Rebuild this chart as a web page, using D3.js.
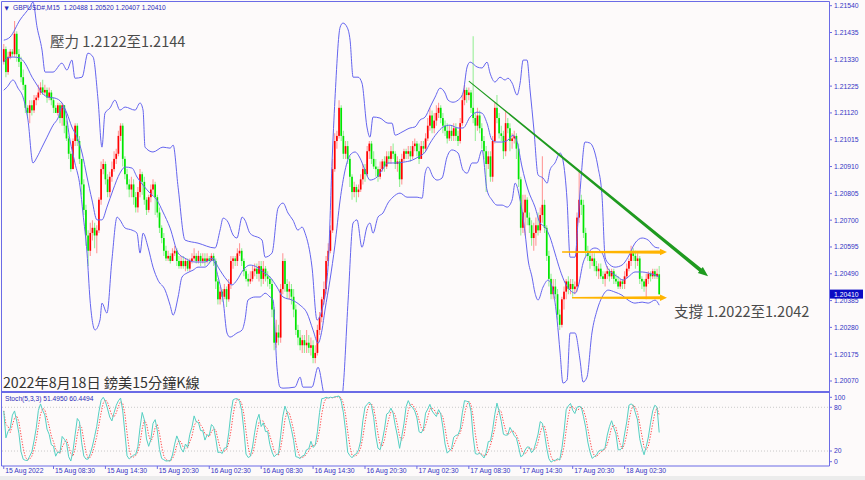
<!DOCTYPE html>
<html><head><meta charset="utf-8">
<script src="https://cdn.jsdelivr.net/npm/d3@7"></script>
<style>body{margin:0;background:#fdfafa;overflow:hidden}svg{display:block}</style>
</head><body>
<svg id="c" width="865" height="480"></svg>
<script>
// ---------- DATA ----------
const symbol = "GBPUSD#,M15";
const open = [1.2132,1.2137,1.2128,1.2134,1.2136,1.2135,1.2143,1.2135,1.2132,1.2126,
1.2123,1.2114,1.2112,1.2115,1.2113,1.2117,1.2118,1.2120,1.2122,1.2120,
1.2121,1.2118,1.2120,1.2117,1.2114,1.2112,1.2115,1.2110,1.2115,1.2107,
1.2102,1.2096,1.2090,1.2101,1.2107,1.2101,1.2094,1.2084,1.2074,1.2064,
1.2058,1.2065,1.2067,1.2064,1.2066,1.2078,1.2090,1.2092,1.2086,1.2081,
1.2087,1.2090,1.2094,1.2096,1.2103,1.2107,1.2094,1.2088,1.2084,1.2082,
1.2084,1.2079,1.2075,1.2081,1.2088,1.2085,1.2078,1.2074,1.2079,1.2082,
1.2084,1.2079,1.2073,1.2067,1.2063,1.2058,1.2055,1.2056,1.2054,1.2057,
1.2058,1.2054,1.2052,1.2054,1.2052,1.2054,1.2051,1.2054,1.2055,1.2056,
1.2054,1.2056,1.2054,1.2055,1.2054,1.2055,1.2054,1.2056,1.2054,1.2046,
1.2039,1.2042,1.2040,1.2043,1.2039,1.2045,1.2054,1.2055,1.2054,1.2057,
1.2058,1.2054,1.2050,1.2047,1.2046,1.2047,1.2050,1.2051,1.2049,1.2052,
1.2047,1.2051,1.2048,1.2047,1.2045,1.2035,1.2022,1.2026,1.2024,1.2043,
1.2054,1.2045,1.2042,1.2043,1.2040,1.2035,1.2027,1.2024,1.2021,1.2023,
1.2021,1.2022,1.2020,1.2021,1.2016,1.2018,1.2027,1.2032,1.2039,1.2043,
1.2054,1.2058,1.2066,1.2090,1.2101,1.2103,1.2114,1.2103,1.2096,1.2099,
1.2094,1.2087,1.2081,1.2083,1.2081,1.2082,1.2086,1.2090,1.2088,1.2097,
1.2100,1.2094,1.2091,1.2090,1.2087,1.2090,1.2093,1.2091,1.2095,1.2094,
1.2097,1.2096,1.2092,1.2093,1.2086,1.2094,1.2097,1.2096,1.2097,1.2095,
1.2099,1.2100,1.2097,1.2094,1.2099,1.2098,1.2102,1.2107,1.2111,1.2106,
1.2109,1.2112,1.2114,1.2110,1.2107,1.2105,1.2102,1.2105,1.2103,1.2106,
1.2103,1.2101,1.2108,1.2117,1.2121,1.2119,1.2120,1.2114,1.2110,1.2107,
1.2111,1.2106,1.2101,1.2097,1.2092,1.2095,1.2087,1.2101,1.2114,1.2110,
1.2104,1.2103,1.2097,1.2108,1.2106,1.2101,1.2102,1.2103,1.2098,1.2086,
1.2067,1.2073,1.2078,1.2071,1.2068,1.2063,1.2065,1.2068,1.2066,1.2072,
1.2076,1.2067,1.2056,1.2047,1.2041,1.2044,1.2041,1.2033,1.2029,1.2039,
1.2042,1.2046,1.2043,1.2045,1.2043,1.2044,1.2071,1.2078,1.2076,1.2065,
1.2058,1.2056,1.2054,1.2055,1.2052,1.2050,1.2051,1.2048,1.2047,1.2049,
1.2050,1.2048,1.2050,1.2047,1.2046,1.2044,1.2046,1.2045,1.2048,1.2051,
1.2054,1.2057,1.2056,1.2054,1.2055,1.2047,1.2046,1.2044,1.2047,1.2049,
1.2048,1.2050,1.2048,1.20488];
const high = [1.2139,1.2138,1.2136,1.2137,1.2137,1.2148,1.2144,1.2137,1.2134,1.2129,
1.2123,1.2115,1.2117,1.2117,1.2119,1.2119,1.2123,1.2124,1.2125,1.2123,
1.2122,1.2122,1.2121,1.2118,1.2115,1.2116,1.2116,1.2116,1.2115,1.2109,
1.2103,1.2097,1.2102,1.2108,1.2108,1.2103,1.2094,1.2086,1.2076,1.2066,
1.2069,1.2070,1.2069,1.2068,1.2079,1.2093,1.2094,1.2093,1.2088,1.2089,
1.2093,1.2097,1.2098,1.2105,1.2108,1.2108,1.2095,1.2090,1.2086,1.2087,
1.2086,1.2081,1.2083,1.2090,1.2089,1.2087,1.2079,1.2080,1.2084,1.2086,
1.2085,1.2080,1.2075,1.2068,1.2065,1.2060,1.2058,1.2057,1.2059,1.2060,
1.2059,1.2056,1.2056,1.2056,1.2055,1.2055,1.2055,1.2057,1.2059,1.2057,
1.2058,1.2057,1.2057,1.2057,1.2057,1.2056,1.2057,1.2057,1.2055,1.2047,
1.2044,1.2043,1.2045,1.2044,1.2047,1.2056,1.2056,1.2056,1.2059,1.2061,
1.2059,1.2055,1.2051,1.2049,1.2050,1.2052,1.2053,1.2053,1.2054,1.2054,
1.2054,1.2052,1.2050,1.2048,1.2047,1.2036,1.2031,1.2029,1.2045,1.2057,
1.2055,1.2047,1.2046,1.2045,1.2043,1.2037,1.2029,1.2027,1.2025,1.2025,
1.2027,1.2025,1.2024,1.2023,1.2021,1.2029,1.2034,1.2040,1.2046,1.2056,
1.2061,1.2068,1.2094,1.2104,1.2105,1.2117,1.2115,1.2105,1.2101,1.2101,
1.2095,1.2088,1.2085,1.2084,1.2084,1.2088,1.2092,1.2092,1.2099,1.2101,
1.2101,1.2097,1.2094,1.2091,1.2093,1.2094,1.2095,1.2097,1.2097,1.2099,
1.2100,1.2097,1.2095,1.2094,1.2096,1.2098,1.2098,1.2099,1.2099,1.2101,
1.2102,1.2101,1.2100,1.2101,1.2101,1.2104,1.2110,1.2114,1.2113,1.2112,
1.2115,1.2116,1.2115,1.2112,1.2109,1.2108,1.2107,1.2107,1.2108,1.2108,
1.2105,1.2110,1.2119,1.2123,1.2122,1.2122,1.2121,1.2142,1.2112,1.2114,
1.2113,1.2108,1.2103,1.2099,1.2097,1.2097,1.2103,1.2116,1.2119,1.2112,
1.2107,1.2105,1.2113,1.2110,1.2108,1.2104,1.2105,1.2104,1.2100,1.2087,
1.2080,1.2080,1.2079,1.2073,1.2070,1.2069,1.2071,1.2073,1.2075,1.2095,
1.2078,1.2068,1.2058,1.2049,1.2047,1.2047,1.2043,1.2035,1.2040,1.2044,
1.2047,1.2048,1.2047,1.2047,1.2046,1.2073,1.2089,1.2080,1.2078,1.2067,
1.2060,1.2058,1.2057,1.2057,1.2054,1.2053,1.2053,1.2050,1.2050,1.2052,
1.2051,1.2051,1.2051,1.2049,1.2048,1.2047,1.2047,1.2050,1.2053,1.2055,
1.2060,1.2059,1.2058,1.2057,1.2056,1.2048,1.2047,1.2049,1.2050,1.2050,
1.2051,1.2051,1.2051,1.20520];
const low = [1.2131,1.2126,1.2127,1.2133,1.2134,1.2134,1.2132,1.2130,1.2124,1.2121,
1.2112,1.2110,1.2108,1.2111,1.2112,1.2115,1.2117,1.2119,1.2119,1.2119,
1.2116,1.2117,1.2115,1.2112,1.2112,1.2111,1.2108,1.2107,1.2104,1.2101,
1.2094,1.2089,1.2090,1.2099,1.2099,1.2092,1.2080,1.2072,1.2060,1.2052,
1.2056,1.2062,1.2059,1.2057,1.2065,1.2076,1.2088,1.2084,1.2079,1.2079,
1.2085,1.2089,1.2092,1.2095,1.2101,1.2091,1.2086,1.2082,1.2079,1.2079,
1.2076,1.2073,1.2073,1.2079,1.2080,1.2076,1.2072,1.2073,1.2077,1.2080,
1.2072,1.2071,1.2065,1.2061,1.2056,1.2054,1.2054,1.2053,1.2054,1.2056,
1.2052,1.2051,1.2051,1.2051,1.2050,1.2050,1.2050,1.2053,1.2054,1.2053,
1.2053,1.2052,1.2053,1.2052,1.2053,1.2053,1.2054,1.2052,1.2043,1.2037,
1.2037,1.2038,1.2039,1.2036,1.2038,1.2043,1.2051,1.2052,1.2052,1.2056,
1.2052,1.2048,1.2046,1.2044,1.2045,1.2046,1.2048,1.2047,1.2046,1.2044,
1.2045,1.2046,1.2044,1.2043,1.2032,1.2019,1.2020,1.2021,1.2022,1.2041,
1.2042,1.2039,1.2039,1.2037,1.2032,1.2025,1.2021,1.2019,1.2018,1.2018,
1.2018,1.2018,1.2017,1.2014,1.2014,1.2017,1.2025,1.2030,1.2037,1.2041,
1.2052,1.2057,1.2065,1.2089,1.2098,1.2102,1.2101,1.2094,1.2094,1.2092,
1.2083,1.2078,1.2079,1.2077,1.2079,1.2081,1.2084,1.2085,1.2087,1.2094,
1.2092,1.2090,1.2087,1.2085,1.2086,1.2089,1.2089,1.2090,1.2092,1.2092,
1.2094,1.2090,1.2089,1.2083,1.2084,1.2093,1.2094,1.2094,1.2093,1.2094,
1.2097,1.2095,1.2092,1.2094,1.2096,1.2097,1.2101,1.2105,1.2104,1.2104,
1.2107,1.2110,1.2108,1.2104,1.2103,1.2100,1.2101,1.2101,1.2101,1.2101,
1.2099,1.2100,1.2107,1.2115,1.2116,1.2117,1.2112,1.2108,1.2101,1.2105,
1.2104,1.2098,1.2094,1.2081,1.2090,1.2085,1.2085,1.2100,1.2108,1.2102,
1.2101,1.2094,1.2095,1.2104,1.2097,1.2098,1.2100,1.2094,1.2083,1.2064,
1.2065,1.2064,1.2068,1.2065,1.2060,1.2058,1.2060,1.2064,1.2065,1.2069,
1.2065,1.2054,1.2044,1.2039,1.2039,1.2039,1.2031,1.2027,1.2028,1.2035,
1.2039,1.2041,1.2041,1.2040,1.2041,1.2042,1.2069,1.2072,1.2063,1.2056,
1.2054,1.2051,1.2052,1.2050,1.2048,1.2047,1.2047,1.2045,1.2044,1.2047,
1.2046,1.2047,1.2045,1.2045,1.2043,1.2043,1.2043,1.2043,1.2047,1.2050,
1.2052,1.2054,1.2051,1.2052,1.2045,1.2043,1.2042,1.2039,1.2045,1.2046,
1.2047,1.2047,1.2047,1.20407];
const close = [1.2137,1.2128,1.2134,1.2136,1.2135,1.2143,1.2135,1.2132,1.2126,1.2123,
1.2114,1.2112,1.2115,1.2113,1.2117,1.2118,1.2120,1.2122,1.2120,1.2121,
1.2118,1.2120,1.2117,1.2114,1.2112,1.2115,1.2110,1.2115,1.2107,1.2102,
1.2096,1.2090,1.2101,1.2107,1.2101,1.2094,1.2084,1.2074,1.2064,1.2058,
1.2065,1.2067,1.2064,1.2066,1.2078,1.2090,1.2092,1.2086,1.2081,1.2087,
1.2090,1.2094,1.2096,1.2103,1.2107,1.2094,1.2088,1.2084,1.2082,1.2084,
1.2079,1.2075,1.2081,1.2088,1.2085,1.2078,1.2074,1.2079,1.2082,1.2084,
1.2079,1.2073,1.2067,1.2063,1.2058,1.2055,1.2056,1.2054,1.2057,1.2058,
1.2054,1.2052,1.2054,1.2052,1.2054,1.2051,1.2054,1.2055,1.2056,1.2054,
1.2056,1.2054,1.2055,1.2054,1.2055,1.2054,1.2056,1.2054,1.2046,1.2039,
1.2042,1.2040,1.2043,1.2039,1.2045,1.2054,1.2055,1.2054,1.2057,1.2058,
1.2054,1.2050,1.2047,1.2046,1.2047,1.2050,1.2051,1.2049,1.2052,1.2047,
1.2051,1.2048,1.2047,1.2045,1.2035,1.2022,1.2026,1.2024,1.2043,1.2054,
1.2045,1.2042,1.2043,1.2040,1.2035,1.2027,1.2024,1.2021,1.2023,1.2021,
1.2022,1.2020,1.2021,1.2016,1.2018,1.2027,1.2032,1.2039,1.2043,1.2054,
1.2058,1.2066,1.2090,1.2101,1.2103,1.2114,1.2103,1.2096,1.2099,1.2094,
1.2087,1.2081,1.2083,1.2081,1.2082,1.2086,1.2090,1.2088,1.2097,1.2100,
1.2094,1.2091,1.2090,1.2087,1.2090,1.2093,1.2091,1.2095,1.2094,1.2097,
1.2096,1.2092,1.2093,1.2086,1.2094,1.2097,1.2096,1.2097,1.2095,1.2099,
1.2100,1.2097,1.2094,1.2099,1.2098,1.2102,1.2107,1.2111,1.2106,1.2109,
1.2112,1.2114,1.2110,1.2107,1.2105,1.2102,1.2105,1.2103,1.2106,1.2103,
1.2101,1.2108,1.2117,1.2121,1.2119,1.2120,1.2114,1.2110,1.2107,1.2111,
1.2106,1.2101,1.2097,1.2092,1.2095,1.2087,1.2101,1.2114,1.2110,1.2104,
1.2103,1.2097,1.2108,1.2106,1.2101,1.2102,1.2103,1.2098,1.2086,1.2067,
1.2073,1.2078,1.2071,1.2068,1.2063,1.2065,1.2068,1.2066,1.2072,1.2076,
1.2067,1.2056,1.2047,1.2041,1.2044,1.2041,1.2033,1.2029,1.2039,1.2042,
1.2046,1.2043,1.2045,1.2043,1.2044,1.2071,1.2078,1.2076,1.2065,1.2058,
1.2056,1.2054,1.2055,1.2052,1.2050,1.2051,1.2048,1.2047,1.2049,1.2050,
1.2048,1.2050,1.2047,1.2046,1.2044,1.2046,1.2045,1.2048,1.2051,1.2054,
1.2057,1.2056,1.2054,1.2055,1.2047,1.2046,1.2044,1.2047,1.2049,1.2048,
1.2050,1.2048,1.2049,1.20410];

// Bollinger bands (bar index, price)
const bbUpperBar = [0,2.9,7.5,12.1,13.5,15.4,17.7,19.1,22.8,26.9,29.2,31.5,32.9,36.2,38.9,41.3,43.6,45.4,46.8,49.1,51.4,53.7,56.1,60.7,63.0,64.4,65.3,69.0,73.6,76.9,78.3,80.6,83.8,89.8,97.7,100.0,101.4,103.7,106.0,107.8,110.2,111.5,113.8,119.4,120.8,124.0,126.8,129.1,131.4,133.7,136.0,137.9,139.3,142.5,144.8,147.1,149.9,151.8,153.1,155.5,156.8,158.7,160.1,161.5,163.8,165.6,167.9,169.3,170.7,173.9,177.6,179.5,180.9,184.1,187.8,190.1,192.4,194.8,197.1,199.4,201.7,204.0,205.4,207.7,210.0,212.3,214.2,215.6,218.8,221.1,223.4,224.8,227.1,229.4,231.7,233.1,235.0,237.3,238.7,240.1,241.9,243.3,245.1,247.0,249.3,251.2,252.5,254.8,257.2,258.5,260.4,261.8,264.1,265.5,266.8,268.7,271.0,273.3,274.7,276.6,278.0,279.4,282.6,285.8,288.6,291.8,295.1,297.9,301.1,303];
const bbUpper = [1.21405,1.21417,1.21484,1.21535,1.21554,1.21456,1.21366,1.21280,1.21280,1.21315,1.21288,1.21327,1.21256,1.21260,1.21354,1.21339,1.21170,1.20986,1.21119,1.21139,1.21170,1.21131,1.21143,1.21131,1.21159,1.21131,1.20986,1.20967,1.20986,1.20982,1.20994,1.20829,1.20622,1.20610,1.20591,1.20661,1.20708,1.20692,1.20642,1.20630,1.20712,1.20700,1.20649,1.20622,1.20555,1.20571,1.20747,1.20767,1.20728,1.20700,1.20661,1.20673,1.20649,1.20516,1.20309,1.20348,1.20516,1.20935,1.21172,1.21456,1.21472,1.21456,1.21405,1.21260,1.21260,1.21237,1.21065,1.21025,1.21104,1.21100,1.21080,1.21080,1.21033,1.21045,1.21061,1.21065,1.21092,1.21104,1.21143,1.21182,1.21217,1.21198,1.21170,1.21162,1.21170,1.21198,1.21300,1.21319,1.21300,1.21296,1.21319,1.21276,1.21241,1.21260,1.21249,1.21256,1.21237,1.21190,1.21237,1.21327,1.21327,1.21210,1.21053,1.20877,1.20865,1.20845,1.20896,1.20924,1.20963,1.20935,1.20779,1.20555,1.20555,1.20700,1.20856,1.21006,1.21002,1.20963,1.20908,1.20790,1.20555,1.20532,1.20516,1.20524,1.20555,1.20610,1.20630,1.20622,1.20594,1.20591];
const bbMidBar = [0,1.5,4.3,7.5,9.8,13.1,15.4,17.7,20.5,23.7,26.9,29.2,31.5,33.9,36.2,38.5,40.8,43.1,45.4,47.7,50.5,53.7,56.1,59.3,61.6,64.4,67.6,70.8,73.6,76.9,80.6,83.8,88.4,93.0,96.7,99.1,103.2,105.5,107.8,110.6,113.8,117.1,119.9,123.1,126.3,129.1,133.3,137.0,140.2,143.0,145.3,147.1,148.5,150.8,153.1,155.5,157.8,160.1,162.4,164.7,167.0,169.3,172.6,174.9,177.6,181.8,184.6,188.8,191.5,194.8,197.1,200.3,203.1,206.3,210.0,212.3,215.6,218.8,221.1,223.4,225.7,228.0,230.4,233.1,235.4,237.3,239.6,242.4,245.6,247.9,250.2,252.5,254.8,257.2,259.5,261.8,264.1,265.5,267.8,270.1,273.3,276.6,278.9,281.2,284.0,286.3,288.6,291.8,295.1,297.9,301.1,303];
const bbMid = [1.21319,1.21335,1.21339,1.21335,1.21315,1.21260,1.21229,1.21198,1.21182,1.21178,1.21159,1.21119,1.21065,1.21025,1.20963,1.20869,1.20779,1.20701,1.20701,1.20751,1.20818,1.20884,1.20908,1.20904,1.20869,1.20837,1.20806,1.20779,1.20732,1.20669,1.20571,1.20551,1.20536,1.20536,1.20551,1.20516,1.20465,1.20446,1.20465,1.20504,1.20524,1.20516,1.20497,1.20477,1.20438,1.20399,1.20387,1.20367,1.20336,1.20269,1.20218,1.20269,1.20348,1.20465,1.20602,1.20779,1.20896,1.20955,1.20967,1.20943,1.20896,1.20857,1.20869,1.20896,1.20924,1.20924,1.20927,1.20935,1.20947,1.20967,1.21002,1.21041,1.21065,1.21072,1.21061,1.21061,1.21104,1.21123,1.21119,1.21080,1.21014,1.21006,1.21006,1.21014,1.21033,1.21006,1.20908,1.20818,1.20751,1.20689,1.20673,1.20634,1.20571,1.20504,1.20454,1.20426,1.20414,1.20438,1.20532,1.20571,1.20591,1.20571,1.20516,1.20493,1.20477,1.20465,1.20477,1.20497,1.20497,1.20493,1.20485,1.20477];
const bbLowerBar = [0,1.5,4.3,6.6,8.9,11.2,13.5,15.4,17.7,20.0,22.8,25.1,26.9,28.3,30.6,32.9,35.3,36.6,38.5,39.9,42.2,44.5,45.4,47.7,50.0,52.4,53.7,56.1,59.3,61.6,63.0,64.4,66.7,69.0,71.3,74.6,76.9,78.3,80.6,82.4,84.7,87.5,89.8,93.0,96.7,99.1,101.4,103.2,104.6,107.8,110.2,111.5,112.9,116.2,118.5,120.8,123.1,124.5,126.3,127.7,129.1,134.6,137.0,138.3,142.5,145.3,147.6,150.8,154.1,156.8,159.2,161.5,163.3,165.6,167.9,169.3,170.7,173.0,175.3,177.6,179.9,183.2,186.4,191.1,193.4,194.8,196.1,198.5,200.3,202.6,204.9,207.2,210.0,212.3,214.2,216.5,218.8,221.1,223.4,225.7,228.0,230.4,232.7,235.0,236.4,238.7,241.0,242.4,244.2,245.6,247.0,249.3,251.6,253.9,255.8,257.2,258.5,260.4,261.8,264.1,266.4,267.8,269.6,271.9,274.3,276.6,279.4,282.6,285.8,288.6,291.8,295.1,297.9,301.1,303];
const bbLower = [1.21209,1.21221,1.21249,1.21217,1.21182,1.21092,1.20924,1.20947,1.20986,1.21025,1.21072,1.21100,1.21143,1.21131,1.21014,1.20924,1.20830,1.20728,1.20571,1.20387,1.20270,1.20309,1.20375,1.20336,1.20544,1.20712,1.20701,1.20669,1.20661,1.20649,1.20571,1.20649,1.20594,1.20516,1.20465,1.20426,1.20367,1.20328,1.20399,1.20477,1.20493,1.20504,1.20516,1.20516,1.20544,1.20477,1.20387,1.20258,1.20242,1.20258,1.20270,1.20309,1.20387,1.20399,1.20399,1.20414,1.20399,1.20387,1.20124,1.20046,1.20042,1.20046,1.20085,1.20046,1.20046,1.20124,1.20034,1.19878,1.19917,1.20034,1.20387,1.20689,1.20701,1.20594,1.20673,1.20689,1.20649,1.20712,1.20728,1.20767,1.20790,1.20806,1.20790,1.20790,1.20786,1.20884,1.20908,1.20869,1.20857,1.20865,1.20947,1.20975,1.20963,1.20896,1.20884,1.20924,1.20924,1.20975,1.20818,1.20779,1.20759,1.20759,1.20751,1.20779,1.20845,1.20779,1.20649,1.20544,1.20477,1.20414,1.20387,1.20438,1.20465,1.20426,1.20309,1.20179,1.20062,1.20074,1.20258,1.20258,1.20152,1.20066,1.20085,1.20258,1.20348,1.20399,1.20426,1.20418,1.20406,1.20387,1.20375,1.20379,1.20375,1.20387,1.20367];

const stochParams = [5, 3, 3];
const stochReadout = [51.4950, 60.4494];
const stochLevels = [80, 20];
const stochTicks = [100, 80, 20, 0];
const priceTicks = [1.21540,1.21435,1.21330,1.21225,1.21120,1.21015,1.20910,1.20805,1.20700,1.20595,1.20490,1.20385,1.20280,1.20175,1.20070];
const timeLabels = ["15 Aug 2022","15 Aug 08:30","15 Aug 14:30","15 Aug 20:30","16 Aug 02:30","16 Aug 08:30","16 Aug 14:30","16 Aug 20:30","17 Aug 02:30","17 Aug 08:30","17 Aug 14:30","17 Aug 20:30","18 Aug 02:30"];
const timeLabelBars = [0,23,47,71,95,119,143,167,191,215,239,263,287];

// annotations (bar index, price)
const trendLine = {from:[215, 1.21245], to:[325.6, 1.20480]};
const rangeArrows = [{from:258.1, to:306.6, price:1.20575}, {from:262.7, to:306.6, price:1.20396}];
const textResist = "壓力 1.2122至1.2144";
const textSupport = "支撐 1.2022至1.2042";
const textTitle = "2022年8月18日 鎊美15分鐘K線";

// ---------- DRAW ----------
const svg = d3.select('#c');
const n = close.length;
const L = 1.5, R = 829.5, T = 1.5, SEP = 392, B = 466;
const axisColor = "#6b6be6", txtColor = "#3434c4";
const x = d3.scaleLinear().domain([0, n-1]).range([3.75, 659.2]);
const y = d3.scaleLinear().domain([1.2007, 1.2154]).range([381, 5.7]);
const ys = d3.scaleLinear().domain([0, 100]).range([465.6, 392.7]);

svg.append('rect').attr('width',865).attr('height',480).attr('fill','#fdfafa');
svg.append('rect').attr('x',0).attr('y',476).attr('width',865).attr('height',4).attr('fill','#ececec');

const defs = svg.append('defs');
defs.append('clipPath').attr('id','cm').append('rect').attr('x',2).attr('y',2).attr('width',827).attr('height',389.5);
defs.append('clipPath').attr('id','cs').append('rect').attr('x',2).attr('y',393).attr('width',827).attr('height',72.5);

// candles
const gMain = svg.append('g').attr('clip-path','url(#cm)');
const idx = d3.range(n);
const up = i => close[i] >= open[i];
gMain.selectAll('line.w').data(idx).join('line')
  .attr('x1', i=>x(i)).attr('x2', i=>x(i))
  .attr('y1', i=>y(high[i])).attr('y2', i=>y(low[i]))
  .attr('stroke', i=>up(i)?'#ff9a9a':'#98ee98').attr('stroke-width',1.1);
gMain.selectAll('rect.b').data(idx).join('rect')
  .attr('x', i=>x(i)-0.85).attr('width',1.7)
  .attr('y', i=>y(Math.max(open[i],close[i])))
  .attr('height', i=>Math.max(1, Math.abs(y(open[i])-y(close[i]))))
  .attr('fill', i=>up(i)?'#ff0000':'#00e600');

// bollinger bands
const bandLine = d3.line().x(d=>x(d[0])).y(d=>y(d[1])).curve(d3.curveMonotoneX);
[[bbUpperBar,bbUpper],[bbMidBar,bbMid],[bbLowerBar,bbLower]].forEach(([bx,bv])=>{
  gMain.append('path').datum(bx.map((b,k)=>[b,bv[k]])).attr('d',bandLine)
    .attr('fill','none').attr('stroke','#6464ee').attr('stroke-width',1);
});

// annotations
function taperArrow(g, x0,y0,x1,y1,w0,w1,hl,hw,color){
  const dx=x1-x0, dy=y1-y0, len=Math.hypot(dx,dy), ux=dx/len, uy=dy/len, nx=-uy, ny=ux;
  const bx=x1-ux*hl, by=y1-uy*hl;
  const pts=[[x0+nx*w0/2,y0+ny*w0/2],[bx+nx*w1/2,by+ny*w1/2],[bx+nx*hw/2,by+ny*hw/2],[x1,y1],
    [bx-nx*hw/2,by-ny*hw/2],[bx-nx*w1/2,by-ny*w1/2],[x0-nx*w0/2,y0-ny*w0/2]];
  g.append('polygon').attr('points',pts.map(p=>p.join(',')).join(' ')).attr('fill',color);
}
const gAnn = svg.append('g');
taperArrow(gAnn, x(trendLine.from[0]), y(trendLine.from[1]), x(trendLine.to[0]), y(trendLine.to[1]), 1, 3.6, 10, 8, '#1f9a1f');
rangeArrows.forEach(a=>taperArrow(gAnn, x(a.from), y(a.price), x(a.to), y(a.price), 1.6, 3.2, 7, 6.5, '#ffb400'));

const cjk = '"Noto Sans CJK TC","Noto Sans CJK SC",sans-serif';
gAnn.append('text').attr('x',50).attr('y',46.5).attr('font-family',cjk).attr('font-size',14.5).attr('fill','#4a4a4a').text(textResist);
gAnn.append('text').attr('x',674).attr('y',317).attr('font-family',cjk).attr('font-size',14.5).attr('fill','#4a4a4a').text(textSupport);
gAnn.append('text').attr('x',3).attr('y',387.5).attr('font-family',cjk).attr('font-size',14.2).attr('fill','#333').text(textTitle);

// stochastic
function stochastic(k,d,s){
  const num=[],den=[],main=[],sig=[];
  for(let i=0;i<n;i++){let lo=Infinity,hi=-Infinity;for(let j=Math.max(0,i-k+1);j<=i;j++){lo=Math.min(lo,low[j]);hi=Math.max(hi,high[j]);}num.push(close[i]-lo);den.push(hi-lo);}
  for(let i=0;i<n;i++){let a=0,b=0;for(let j=Math.max(0,i-s+1);j<=i;j++){a+=num[j];b+=den[j];}main.push(b>0?100*a/b:50);}
  for(let i=0;i<n;i++){let a=0,c=0;for(let j=Math.max(0,i-d+1);j<=i;j++){a+=main[j];c++;}sig.push(a/c);}
  return {main,sig};
}
const st = stochastic(stochParams[0], stochParams[1], stochParams[2]);
const gS = svg.append('g').attr('clip-path','url(#cs)');
stochLevels.forEach(v=>gS.append('line').attr('x1',2).attr('x2',829).attr('y1',ys(v)).attr('y2',ys(v))
  .attr('stroke','#bdbdbd').attr('stroke-width',0.8).attr('stroke-dasharray','1,2'));
const sl = d3.line().x((d,i)=>x(i)).y(d=>ys(d));
gS.append('path').datum(st.sig).attr('d',sl).attr('fill','none').attr('stroke','#ff4a4a').attr('stroke-width',1).attr('stroke-dasharray','1.3,1.5');
gS.append('path').datum(st.main).attr('d',sl).attr('fill','none').attr('stroke','#55cfc2').attr('stroke-width',1);

// frame
const fr = svg.append('g').attr('stroke',axisColor).attr('fill','none');
fr.append('line').attr('x1',L).attr('x2',L).attr('y1',T).attr('y2',B);
fr.append('line').attr('x1',L).attr('x2',R).attr('y1',T).attr('y2',T);
fr.append('line').attr('x1',R).attr('x2',R).attr('y1',T).attr('y2',B);
fr.append('line').attr('x1',L).attr('x2',R).attr('y1',SEP).attr('y2',SEP).attr('stroke-width',1.8);
fr.append('line').attr('x1',L).attr('x2',R).attr('y1',B).attr('y2',B);

// axes text
const axFont = '"Liberation Sans",Arial,sans-serif';
const ax = svg.append('g').attr('font-family',axFont).attr('font-size',6.8).attr('fill',txtColor);
priceTicks.forEach(p=>{
  ax.append('line').attr('x1',R).attr('x2',R+2.5).attr('y1',y(p)).attr('y2',y(p)).attr('stroke',axisColor);
  ax.append('text').attr('x',834).attr('y',y(p)+2.4).text(p.toFixed(5));
});
const last = close[n-1];
ax.append('rect').attr('x',830).attr('y',y(last)-4.6).attr('width',33).attr('height',9).attr('fill','#0c0cc4');
ax.append('text').attr('x',834).attr('y',y(last)+2.4).attr('fill','#fff').text(last.toFixed(5));
stochTicks.forEach(v=>{
  const yy = Math.min(461.7, Math.max(397.3, ys(v)));
  ax.append('line').attr('x1',R).attr('x2',R+2.5).attr('y1',yy).attr('y2',yy).attr('stroke',axisColor);
  ax.append('text').attr('x',834).attr('y',yy+2.4).text(v);
});
timeLabels.forEach((t,k)=>{
  const xx = x(timeLabelBars[k]);
  ax.append('line').attr('x1',xx).attr('x2',xx).attr('y1',B).attr('y2',B+3).attr('stroke',axisColor);
  ax.append('text').attr('x',xx+1.5).attr('y',473.3).text(t);
});
// headers
const hd = svg.append('g').attr('font-family',axFont).attr('font-size',6.7).attr('fill','#2a2ab8');
hd.append('text').attr('x',4.5).attr('y',9.8).attr('font-family','"DejaVu Sans",sans-serif').attr('font-size',5.5).text('▼');
hd.append('text').attr('x',13).attr('y',9.8).style('white-space','pre')
  .text(`${symbol}  ${open[n-1].toFixed(5)} ${high[n-1].toFixed(5)} ${low[n-1].toFixed(5)} ${close[n-1].toFixed(5)}`);
hd.append('text').attr('x',5).attr('y',400.8)
  .text(`Stoch(${stochParams.join(',')}) ${stochReadout[0].toFixed(4)} ${stochReadout[1].toFixed(4)}`);
</script>
</body></html>
